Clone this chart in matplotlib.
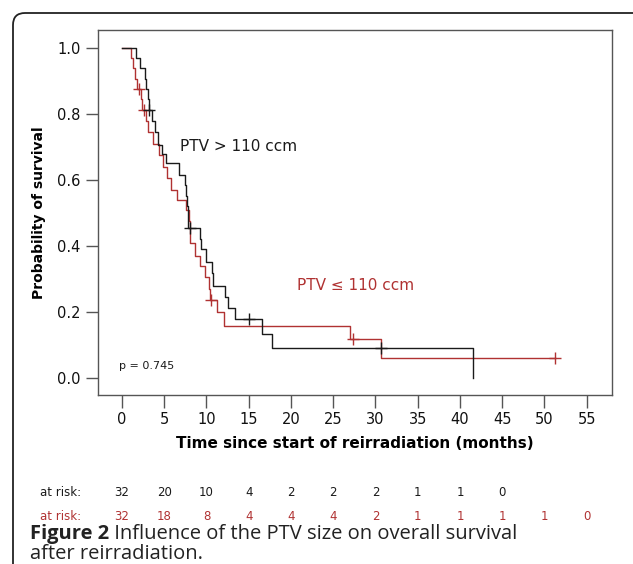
import numpy as np
import matplotlib
matplotlib.use("Agg")
import matplotlib.pyplot as plt
from matplotlib.patches import FancyBboxPatch
from matplotlib.transforms import blended_transform_factory, IdentityTransform

# Kaplan-Meier steps (time in months, survival after the step)
big_times = [0, 1.7, 2.1, 2.7, 2.9, 3.05, 3.15, 3.5, 3.9, 4.3, 4.7, 5.2, 6.8, 7.5,
             7.6, 7.7, 7.8, 7.85, 9.2, 9.4, 10.0, 10.6, 10.8, 12.2, 12.6, 13.4,
             16.6, 17.7, 41.6]
big_surv = [1.0, 0.969, 0.938, 0.906, 0.875, 0.844, 0.812, 0.78, 0.746, 0.706,
            0.68, 0.65, 0.615, 0.585, 0.55, 0.52, 0.49, 0.455, 0.42, 0.39, 0.352,
            0.317, 0.28, 0.246, 0.211, 0.178, 0.132, 0.09, 0.0]
big_censor = [3.2, 8.0, 15.0, 30.6]

small_times = [0, 1.1, 1.3, 1.5, 1.8, 2.3, 2.4, 2.9, 3.1, 3.7, 4.4, 4.8, 5.3, 5.8,
               6.5, 7.6, 7.9, 8.0, 8.1, 8.7, 9.2, 9.8, 10.3, 10.4, 11.2, 12.1,
               27.0, 30.6]
small_surv = [1.0, 0.969, 0.938, 0.906, 0.875, 0.844, 0.812, 0.78, 0.745, 0.71,
              0.675, 0.64, 0.605, 0.57, 0.54, 0.51, 0.475, 0.44, 0.408, 0.37,
              0.34, 0.305, 0.27, 0.236, 0.2, 0.158, 0.118, 0.062]
small_censor = [2.0, 2.6, 10.5, 27.4, 51.2]
small_end = 51.2

risk_times = [0, 5, 10, 15, 20, 25, 30, 35, 40, 45, 50, 55]
big_risk = [32, 20, 10, 4, 2, 2, 2, 1, 1, 0]
small_risk = [32, 18, 8, 4, 4, 4, 2, 1, 1, 1, 1, 0]

RED = "#b03232"
BLACK = "#1a1a1a"
AXC = "#555555"


def surv_at(times, surv, t):
    i = np.searchsorted(times, t, side="right") - 1
    return surv[i]


fig = plt.figure(figsize=(6.33, 5.64), dpi=100)
ax = fig.add_axes([98 / 633, 1 - 395 / 564, 514 / 633, 365 / 564])

ax.step(small_times + [small_end], small_surv + [small_surv[-1]], where="post",
        color=RED, lw=1.0)
ax.plot(small_censor, [surv_at(small_times, small_surv, t) for t in small_censor],
        "+", color=RED, ms=8, mew=1.0)

ax.step(big_times, big_surv, where="post", color=BLACK, lw=1.0)
ax.plot(big_censor, [surv_at(big_times, big_surv, t) for t in big_censor],
        "+", color=BLACK, ms=8, mew=1.0)

ax.set_xlim(-2.84, 58.0)
ax.set_ylim(-0.0515, 1.0545)
ax.set_xticks(risk_times)
ax.set_yticks([0.0, 0.2, 0.4, 0.6, 0.8, 1.0])
ax.set_yticklabels(["0.0", "0.2", "0.4", "0.6", "0.8", "1.0"])
for s in ax.spines.values():
    s.set_color(AXC)
    s.set_linewidth(1.0)
ax.tick_params(colors=AXC, labelcolor="#111111", labelsize=10.5, length=9,
               width=1.0, direction="out")

ax.set_xlabel("Time since start of reirradiation (months)", fontsize=11,
              fontweight="bold", labelpad=6)
ax.set_ylabel("Probability of survival", fontsize=10, fontweight="bold",
              labelpad=8)

ax.text(6.9, 0.70, "PTV > 110 ccm", fontsize=11, color=BLACK, va="center")
ax.text(20.7, 0.28, "PTV \u2264 110 ccm", fontsize=11, color=RED, va="center")
ax.text(-0.4, 0.036, "p = 0.745", fontsize=8, color=BLACK, va="center")

# numbers at risk under the axis
tr = blended_transform_factory(ax.transData, fig.transFigure)
row1_y = 1 - 492 / 564
row2_y = 1 - 516 / 564
fig.text(40 / 633, row1_y, "at risk:", fontsize=8.5, color=BLACK, va="center")
fig.text(40 / 633, row2_y, "at risk:", fontsize=8.5, color=RED, va="center")
for t, n in zip(risk_times, big_risk):
    ax.text(t, row1_y, str(n), transform=tr, fontsize=8.5, color=BLACK,
            ha="center", va="center", clip_on=False)
for t, n in zip(risk_times, small_risk):
    ax.text(t, row2_y, str(n), transform=tr, fontsize=8.5, color=RED,
            ha="center", va="center", clip_on=False)

# caption
cap_kw = dict(fontsize=14.5, color="#222222", family="Open Sans")
cap = fig.text(30 / 633, 1 - 534 / 564, "Figure 2", fontweight="bold",
               va="center", **cap_kw)
ax.annotate(" Influence of the PTV size on overall survival", xy=(1, 0.5),
            xycoords=cap, va="center", ha="left", annotation_clip=False,
            **cap_kw)
fig.text(30 / 633, 1 - 554 / 564, "after reirradiation.", va="center", **cap_kw)

# outer rounded frame
frame = FancyBboxPatch((13, -30), 700, 30 + 551,
                       boxstyle="round,pad=0,rounding_size=12",
                       transform=IdentityTransform(), fill=False,
                       edgecolor="#222222", lw=1.3)
fig.patches.append(frame)

fig.savefig("out.png", dpi=100)
